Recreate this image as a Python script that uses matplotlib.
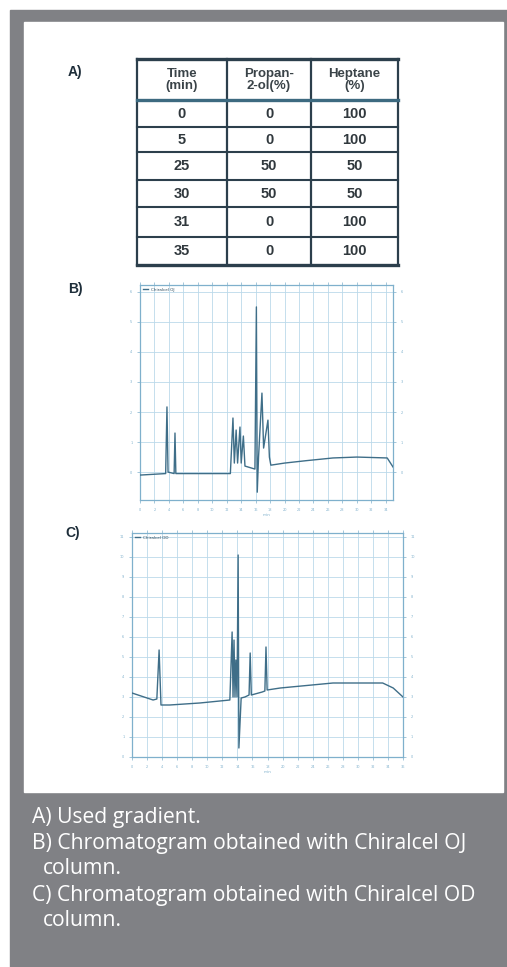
import matplotlib
matplotlib.use('Agg')
import matplotlib.pyplot as plt
from matplotlib.patches import Rectangle
import numpy as np

# A) gradient table
headers = ['Time\n(min)', 'Propan-\n2-ol(%)', 'Heptane\n(%)']
time_min = ['0', '5', '25', '30', '31', '35']
propanol = ['0', '0', '50', '50', '0', '0']
heptane = ['100', '100', '50', '50', '100', '100']

# B) Chiralcel OJ trace (min, signal)
b_time = [0, 3.55, 3.73, 3.88, 4.72, 4.84, 4.96, 12.5, 12.86, 13.05, 13.3, 13.5,
          13.83, 14.0, 14.3, 14.52, 15.9, 16.1, 16.22, 16.4, 16.87, 17.1, 17.7,
          17.9, 18.1, 20.0, 23.0, 26.7, 30.0, 34.2, 35.0]
b_signal = [-0.1, -0.05, 2.17, 0.0, -0.05, 1.3, -0.05, -0.05, 1.8, 0.3, 1.4, 0.3,
            1.5, 0.3, 1.2, 0.2, 0.1, 5.5, -0.67, 0.5, 2.63, 0.8, 1.73,
            0.5, 0.23, 0.3, 0.38, 0.47, 0.5, 0.47, 0.17]

# C) Chiralcel OD trace
c_time = [0, 2.8, 3.3, 3.6, 3.85, 5.0, 9.0, 13.0, 13.3, 13.42, 13.55, 13.68, 13.8,
          13.95, 14.1, 14.2, 14.5, 15.0, 15.55, 15.7, 15.85, 17.3, 17.65, 17.8,
          17.95, 19.7, 26.7, 33.3, 34.7, 36.0]
c_signal = [3.2, 2.85, 2.9, 5.35, 2.6, 2.6, 2.7, 2.85, 6.25, 3.0, 5.85, 3.0, 4.85,
            3.0, 10.1, 0.45, 2.95, 3.0, 3.1, 5.2, 3.1, 3.25, 3.3, 5.5,
            3.35, 3.45, 3.7, 3.7, 3.45, 3.0]

captions = ['A) Used gradient.',
            'B) Chromatogram obtained with Chiralcel OJ',
            'column.',
            'C) Chromatogram obtained with Chiralcel OD',
            'column.']

W, H = 507, 967
fig = plt.figure(figsize=(W / 100, H / 100), dpi=100)

bg = fig.add_axes([0, 0, 1, 1])
bg.set_xlim(0, W)
bg.set_ylim(H, 0)
bg.axis('off')
bg.add_patch(Rectangle((10, 10), W - 10, H - 10, color='#808185', zorder=0))
bg.add_patch(Rectangle((24, 22), 479, 770, color='white', zorder=1))

ink = '#2c3f4c'

# panel labels
for lab, (lx, ly) in zip(['A)', 'B)', 'C)'], [(75, 72), (75, 289), (73, 533)]):
    bg.text(lx, ly, lab, fontsize=10, fontweight='bold', color='#1e2e3a',
            ha='center', va='center', family='Liberation Sans', zorder=3)

# table
col_edges = [137, 227, 311, 398]
row_edges = [59, 100, 127, 152, 180, 207, 237, 265]
for x in col_edges:
    bg.plot([x, x], [row_edges[0], row_edges[-1]], color=ink, lw=1.6, zorder=3)
for i, y in enumerate(row_edges):
    lw = 2.4 if i in (0, 1, len(row_edges) - 1) else 1.5
    c = '#3d6a80' if i == 1 else ink
    bg.plot([col_edges[0], col_edges[-1]], [y, y], color=c, lw=lw, zorder=3)

col_mid = [(col_edges[i] + col_edges[i + 1]) / 2 for i in range(3)]
for j, htxt in enumerate(headers):
    bg.text(col_mid[j], 80, htxt, fontsize=9.5, fontweight='bold', color='#3a4348',
            ha='center', va='center', linespacing=1.05, family='Liberation Sans', zorder=3)
for i, row in enumerate(zip(time_min, propanol, heptane)):
    yc = (row_edges[i + 1] + row_edges[i + 2]) / 2
    for j, val in enumerate(row):
        bg.text(col_mid[j], yc, val, fontsize=10.5, fontweight='bold', color='#30383d',
                ha='center', va='center', family='Liberation Sans', zorder=3)

# caption
cap_y = [817, 844, 868, 896, 920]
cap_x = [32, 32, 43, 32, 43]
for txt, x, y in zip(captions, cap_x, cap_y):
    bg.text(x, y, txt, fontsize=15.2, color='white', ha='left', va='center',
            family='Open Sans', zorder=3)

grid_col = '#bcd9ea'
frame_col = '#7fb0cc'
trace_col = '#3f6e88'


def chromatogram(box, t, s, xmax, ylo, yhi, ystep, label):
    l, t_px, r, b_px = box
    ax = fig.add_axes([l / W, 1 - b_px / H, (r - l) / W, (b_px - t_px) / H])
    ax.set_facecolor('white')
    ax.plot(t, s, color=trace_col, lw=1.0, label=label, zorder=3)
    ax.set_xlim(0, xmax)
    ax.set_ylim(ylo, yhi)
    ax.set_xticks(np.arange(0, xmax + 0.1, 2))
    ax.set_yticks(np.arange(np.ceil(ylo), yhi, ystep))
    ax.grid(True, color=grid_col, lw=0.6)
    ax.tick_params(colors=frame_col, labelsize=2.5, length=2, width=0.5,
                   right=True, top=True, labelright=True)
    for sp in ax.spines.values():
        sp.set_color(frame_col)
        sp.set_linewidth(0.9)
    ax.set_xlabel('min', fontsize=3, color=frame_col, labelpad=1)
    leg = ax.legend(loc='upper left', fontsize=3, frameon=False, handlelength=1.2,
                    borderaxespad=0.3)
    for tx in leg.get_texts():
        tx.set_color('#2c4a5c')
    return ax


chromatogram((140, 285, 393, 500), b_time, b_signal, 35, -0.93, 6.23, 1, 'Chiralcel OJ')
chromatogram((132, 533, 403, 757), c_time, c_signal, 36, 0, 11.2, 1, 'Chiralcel OD')

fig.savefig('out.png', dpi=100)
